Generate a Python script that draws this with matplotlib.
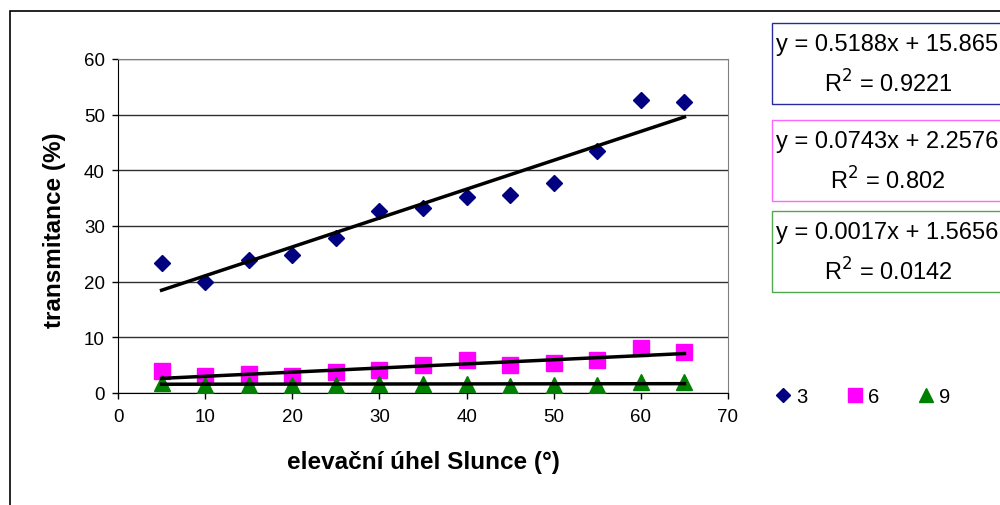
import numpy as np
import matplotlib.pyplot as plt
from matplotlib.patches import Rectangle

plt.rcParams['font.family'] = ['Liberation Sans', 'DejaVu Sans']

# elevation angle of the sun (deg)
angle = [5, 10, 15, 20, 25, 30, 35, 40, 45, 50, 55, 60, 65]

# transmittance (%) for the three series
t3 = [23.3, 19.9, 23.9, 24.8, 27.8, 32.7, 33.2, 35.2, 35.6, 37.7, 43.5, 52.6, 52.3]
t6 = [4.0, 3.0, 3.4, 3.0, 3.7, 4.2, 5.1, 5.9, 5.0, 5.3, 5.9, 8.0, 7.4]
t9 = [1.8, 1.5, 1.5, 1.4, 1.5, 1.6, 1.6, 1.7, 1.2, 1.5, 1.5, 2.0, 2.0]

# linear trends (slope, intercept, R^2)
fit3 = (0.5188, 15.865, '0.9221')
fit6 = (0.0743, 2.2576, '0.802')
fit9 = (0.0017, 1.5656, '0.0142')

series = [
    ('3', t3, fit3, 'D', '#000080', 8, '#2a2aa0'),
    ('6', t6, fit6, 's', '#ff00ff', 11, '#ff66ff'),
    ('9', t9, fit9, '^', '#008000', 11, '#50a850'),
]

fig = plt.figure(figsize=(10, 5.06), dpi=100)

# outer chart frame
fig.patches.append(Rectangle((10 / 1000, -0.1), 1.1, 1 - 12 / 506 + 0.1,
                             transform=fig.transFigure, fill=False,
                             edgecolor='black', lw=1.2))

ax = fig.add_axes([0.118, 1 - 394 / 506, 0.61, (394 - 60) / 506])

xs = np.array([angle[0], angle[-1]])
for name, vals, fit, mk, col, ms, boxcol in series:
    ax.plot(angle, vals, linestyle='none', marker=mk, color=col,
            markersize=ms, label=name, zorder=3)
    ax.plot(xs, fit[0] * xs + fit[1], color='black', lw=2.5, zorder=4)

ax.set_xlim(0, 70)
ax.set_ylim(0, 60)
ax.set_xticks(range(0, 71, 10))
ax.set_yticks(range(0, 61, 10))
ax.tick_params(labelsize=13.5, length=4.5, width=1, direction='out')
ax.tick_params(axis='x', pad=6)
ax.tick_params(axis='y', pad=5)
ax.yaxis.grid(True, color='#303030', lw=1)
ax.set_axisbelow(True)
ax.spines['top'].set_color('#808080')
ax.spines['right'].set_color('#808080')

fig.text(423 / 1000, 1 - 463 / 506, 'elevační úhel Slunce (°)',
         fontsize=17.5, fontweight='bold', ha='center', va='center')
fig.text(54 / 1000, 1 - 230 / 506, 'transmitance (%)', rotation=90,
         fontsize=17.5, fontweight='bold', ha='center', va='center')

# equation boxes
box_tops = [24, 121, 212]
for (name, vals, fit, mk, col, ms, boxcol), top in zip(series, box_tops):
    y0 = 1 - (top + 81) / 506
    fig.patches.append(Rectangle((772 / 1000, y0), 0.3, 81 / 506,
                                 transform=fig.transFigure, fill=False,
                                 edgecolor=boxcol, lw=1))
    fig.text(776 / 1000, 1 - (top + 21) / 506,
             'y = %.4gx + %s' % (fit[0], str(fit[1])),
             fontsize=17, va='center', ha='left')
    fig.text(888 / 1000, 1 - (top + 60) / 506,
             r'R$^{2}$ = %s' % fit[2], fontsize=17, va='center', ha='center')

fig.legend(loc='center left', bbox_to_anchor=(0.774, 1 - 398 / 506),
           ncol=3, frameon=False, fontsize=14.5, handletextpad=0.2,
           columnspacing=1.9, handlelength=0.9, markerscale=0.95,
           borderaxespad=0, borderpad=0)

fig.savefig('out.png', dpi=100)
